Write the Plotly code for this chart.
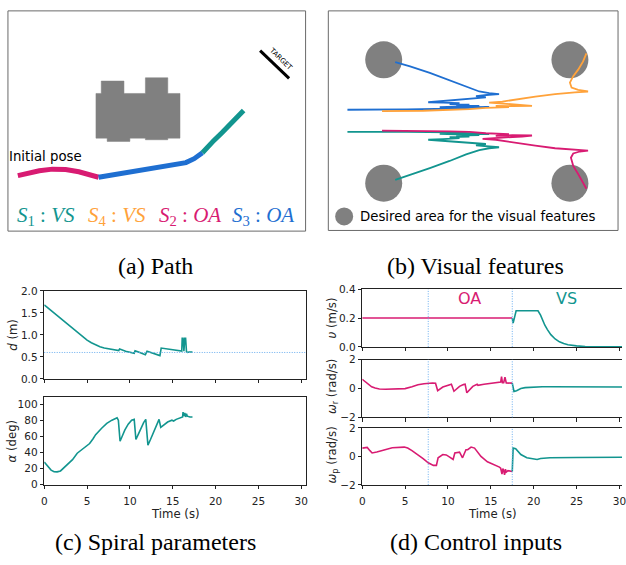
import plotly.graph_objects as go

TEAL = "#12958f"
MAGENTA = "#d81b72"
BLUE = "#1f6fd1"
ORANGE = "#ffa23a"
GRAY = "#808080"
VLINE = "#6aaef0"

# ---------------- (c) spiral parameters ----------------
d_time = [0, 0.5, 1, 1.5, 2, 2.5, 3, 3.5, 4, 4.5, 5, 5.5, 6, 6.5, 7, 7.5, 8, 8.7, 8.8, 9.5,
          10.5, 10.6, 11.0, 11.8, 12.0, 12.9, 13.5, 13.65, 14.5, 15.5, 16.05, 16.1, 16.2,
          16.3, 16.4, 16.5, 16.6, 16.7, 16.9, 17.3]
d_vals = [1.68, 1.60, 1.52, 1.44, 1.36, 1.27, 1.19, 1.11, 1.03, 0.95, 0.88, 0.82, 0.77, 0.73,
          0.70, 0.68, 0.665, 0.645, 0.68, 0.63, 0.58, 0.64, 0.61, 0.55, 0.63, 0.56, 0.53, 0.70,
          0.68, 0.65, 0.63, 0.92, 0.92, 0.63, 0.92, 0.92, 0.62, 0.60, 0.61, 0.61]
d_ref = 0.6

alpha_time = [0, 0.4, 0.8, 1.15, 1.5, 1.9, 2.3, 2.8, 3.3, 3.85, 4.3, 4.8, 5.3, 5.7, 6.0, 6.7,
              7.3, 7.9, 8.3, 8.5, 8.65, 8.85, 9.1, 9.4, 9.8, 10.2, 10.5, 10.7, 11.0, 11.35,
              11.6, 11.85, 12.1, 12.4, 12.7, 13.0, 13.4, 13.6, 14.0, 14.4, 14.9, 15.1, 15.4,
              15.8, 16.15, 16.2, 16.3, 16.4, 16.5, 16.6, 16.7, 17.0, 17.3]
alpha_vals = [28, 23, 18, 16, 15.8, 17, 21, 26, 31, 39, 43, 47, 51, 57, 62, 70, 76, 80, 82,
              83, 80, 54, 60, 67.6, 75, 80, 81, 56, 63, 71.7, 77, 81, 49, 56, 64, 72, 81, 71,
              74, 77.7, 80, 79, 81, 83, 84, 90, 85, 89, 84, 88, 85, 84, 84]

# ---------------- (d) control inputs ----------------
switch_times = [7.7, 17.5]
v_oa_time = [0, 17.5]
v_oa_vals = [0.2, 0.2]
v_vs_time = [17.5, 17.6, 17.95, 20.5, 20.8, 21.0, 21.3, 21.6, 22.0, 22.5, 23.0, 23.5, 24.0,
             25.0, 26.0, 28.0, 30.3]
v_vs_vals = [0.2, 0.165, 0.25, 0.25, 0.22, 0.19, 0.15, 0.12, 0.085, 0.055, 0.035, 0.023,
             0.015, 0.007, 0.003, 0.001, 0.0]

wr_oa_time = [0, 0.4, 0.77, 1.1, 1.5, 2.0, 2.7, 3.5, 4.3, 5.0, 5.8, 6.5, 7.2, 7.7, 8.2, 8.55,
              8.8, 9.4, 10.0, 10.4, 10.7, 11.35, 11.8, 12.0, 12.2, 12.9, 13.4, 13.5, 14.2,
              15.0, 15.7, 16.15, 16.25, 16.35, 16.5, 16.65, 16.8, 17.0, 17.3, 17.5]
wr_oa_vals = [0.64, 0.45, 0.26, 0.12, 0.03, -0.03, -0.05, -0.04, -0.02, -0.01, 0.12, 0.26,
              0.33, 0.37, 0.38, 0.37, -0.15, 0.1, 0.22, 0.3, -0.19, 0.15, 0.27, 0.3, -0.3,
              0.15, 0.3, 0.22, 0.3, 0.37, 0.4, 0.44, 0.82, 0.40, 0.40, 0.78, 0.38, 0.38, 0.37,
              0.37]
wr_vs_time = [17.5, 17.7, 18.0, 18.5, 19.0, 20.0, 21.0, 22.0, 25.0, 30.3]
wr_vs_vals = [0.37, -0.2, -0.15, 0.0, 0.06, 0.1, 0.12, 0.12, 0.1, 0.1]

wp_oa_time = [0, 0.58, 0.9, 1.15, 1.7, 2.7, 3.5, 4.9, 5.3, 5.8, 6.5, 7.1, 7.7, 8.3, 8.65,
              8.85, 9.4, 9.8, 10.2, 10.6, 10.8, 11.35, 11.7, 12.1, 12.3, 12.7, 13.1, 13.85,
              14.6, 15.4, 16.0, 16.15, 16.3, 16.4, 16.5, 16.6, 16.7, 16.8, 17.0, 17.5]
wp_oa_vals = [0.58, 0.63, 0.4, 0.24, 0.31, 0.47, 0.6, 0.65, 0.58, 0.4, 0.13, -0.15, -0.45,
              -0.63, -0.63, -0.1, 0.13, 0.1, -0.05, -0.22, 0.24, 0.29, -0.1, 0.47, 0.47, 0.65,
              0.58, 0.0, -0.38, -0.56, -0.75, -0.83, -1.25, -0.85, -1.0, -1.3, -0.9, -1.1,
              -1.0, -1.06]
wp_vs_time = [17.5, 17.6, 17.9, 18.2, 18.5, 19.2, 19.8, 20.4, 20.8, 21.9, 25.0, 30.3]
wp_vs_vals = [-1.06, 0.58, 0.54, 0.35, 0.13, -0.1, -0.18, -0.22, -0.15, -0.1, -0.08, -0.06]

time_ticks = [0, 5, 10, 15, 20, 25, 30]

# ---------------- (a) path (panel image units) ----------------
path_s2_x = [45, 75, 110, 150, 190, 230, 265, 290]
path_s2_y = [520, 513, 505, 500, 501, 508, 518, 525]
path_s3_x = [290, 330, 370, 400, 440, 480, 520, 555, 580, 605]
path_s3_y = [525, 518, 511, 505, 498, 492, 487, 480, 468, 450]
path_s1_x = [605, 620, 640, 665, 690, 710, 730]
path_s1_y = [450, 432, 412, 388, 362, 340, 320]
obstacle_x = [282, 298, 298, 367, 367, 432, 432, 500, 500, 537, 537, 500, 500, 432, 432,
              385, 385, 316, 316, 282, 282]
obstacle_y = [268, 268, 230, 230, 268, 268, 220, 220, 268, 268, 405, 405, 410, 410, 405,
              405, 415, 415, 405, 405, 268]
target_x = [780, 868]
target_y = [137, 222]
segment_labels = ["<i>S</i><sub>1</sub> : <i>VS</i>", "<i>S</i><sub>4</sub> : <i>VS</i>",
                  "<i>S</i><sub>2</sub> : <i>OA</i>", "<i>S</i><sub>3</sub> : <i>OA</i>"]
segment_label_x = [131, 345, 566, 789]
segment_colors = [TEAL, ORANGE, MAGENTA, BLUE]

# ---------------- (b) visual features (panel image units) ----------------
feat_area_x = [180, 745, 180, 745]
feat_area_y = [165, 165, 543, 543]
feat_blue_x = [215, 260, 320, 380, 430, 470, 500, 530, 500, 460, 490, 430, 400, 360, 315,
               360, 410, 380, 440, 400, 470, 350, 420, 500, 440, 380, 250, 70]
feat_blue_y = [172, 185, 205, 228, 248, 262, 267, 270, 272, 276, 280, 285, 288, 292, 295,
               296, 298, 301, 302, 305, 306, 310, 311, 309, 313, 315, 317, 318]
feat_orange_x = [795, 785, 770, 755, 745, 750, 770, 800, 760, 700, 640, 580, 540, 500, 545,
                 600, 630, 570, 520, 560, 490, 440, 380, 300, 175]
feat_orange_y = [145, 170, 195, 215, 235, 250, 257, 262, 265, 270, 278, 288, 293, 296, 299,
                 302, 306, 307, 306, 310, 312, 316, 319, 321, 322]
feat_teal_x = [215, 260, 320, 380, 430, 470, 500, 530, 500, 460, 490, 430, 400, 360, 315,
               360, 410, 380, 440, 400, 470, 350, 420, 500, 440, 380, 250, 70]
feat_teal_y = [533, 518, 497, 475, 455, 442, 436, 433, 430, 427, 423, 418, 415, 412, 410,
               408, 405, 402, 400, 397, 396, 392, 391, 393, 389, 387, 386, 386]
feat_mag_x = [795, 785, 770, 755, 748, 755, 775, 800, 760, 700, 640, 580, 520, 480, 540,
              600, 630, 570, 520, 560, 490, 440, 380, 300, 175]
feat_mag_y = [560, 540, 515, 490, 465, 452, 446, 443, 440, 436, 428, 418, 410, 407, 404,
              400, 397, 396, 398, 393, 390, 386, 384, 383, 382]

W, H = 626, 565
fig = go.Figure()


def line(x, y, color, xa, ya, width=1.6):
    fig.add_trace(go.Scatter(x=x, y=y, mode="lines", line=dict(color=color, width=width),
                             xaxis=xa, yaxis=ya, hoverinfo="skip"))


# (c)
line(d_time, d_vals, TEAL, "x", "y")
line(alpha_time, alpha_vals, TEAL, "x2", "y2")
# (d)
line(v_oa_time, v_oa_vals, MAGENTA, "x3", "y3")
line(v_vs_time, v_vs_vals, TEAL, "x3", "y3")
line(wr_oa_time, wr_oa_vals, MAGENTA, "x4", "y4")
line(wr_vs_time, wr_vs_vals, TEAL, "x4", "y4")
line(wp_oa_time, wp_oa_vals, MAGENTA, "x5", "y5")
line(wp_vs_time, wp_vs_vals, TEAL, "x5", "y5")

# (a)
fig.add_trace(go.Scatter(x=obstacle_x, y=obstacle_y, mode="lines", fill="toself",
                         fillcolor=GRAY, line=dict(color=GRAY, width=0.5),
                         xaxis="x6", yaxis="y6", hoverinfo="skip"))
line(path_s2_x, path_s2_y, MAGENTA, "x6", "y6", 5)
line(path_s3_x, path_s3_y, BLUE, "x6", "y6", 5)
line(path_s1_x, path_s1_y, TEAL, "x6", "y6", 5)
line(target_x, target_y, "black", "x6", "y6", 3)

# (b)
fig.add_trace(go.Scatter(x=feat_area_x, y=feat_area_y, mode="markers",
                         marker=dict(size=37, color=GRAY), xaxis="x7", yaxis="y7",
                         hoverinfo="skip"))
fig.add_trace(go.Scatter(x=[60], y=[645], mode="markers",
                         marker=dict(size=18, color=GRAY), xaxis="x7", yaxis="y7",
                         hoverinfo="skip"))
line(feat_blue_x, feat_blue_y, BLUE, "x7", "y7", 1.8)
line(feat_orange_x, feat_orange_y, ORANGE, "x7", "y7", 1.8)
line(feat_teal_x, feat_teal_y, TEAL, "x7", "y7", 1.8)
line(feat_mag_x, feat_mag_y, MAGENTA, "x7", "y7", 1.8)

tickfont = dict(family="DejaVu Sans", size=10.5, color="#222")
base = dict(showline=True, linecolor="#222", linewidth=1, ticks="outside",
            ticklen=3.5, tickwidth=1, tickcolor="#222", showgrid=False, zeroline=False,
            tickfont=tickfont, fixedrange=True)
common = dict(mirror=True, **base)
open_right = dict(mirror=False, **base)


def py(px):
    return 1 - px / H


def pxx(px):
    return px / W


cx = [pxx(41.7), pxx(306)]
dx = [pxx(363.3), 1.0]

layout = dict(
    width=W, height=H, margin=dict(l=0, r=0, t=0, b=0), showlegend=False,
    paper_bgcolor="white", plot_bgcolor="rgba(0,0,0,0)",
    xaxis=dict(domain=cx, range=[0, 30.5], tickvals=time_ticks, showticklabels=False, anchor="y", **common),
    yaxis=dict(domain=[py(381), py(291)], range=[0, 2], tickvals=[0, 0.5, 1, 1.5, 2],
               tickformat=".1f", anchor="x", **common),
    xaxis2=dict(domain=cx, range=[0, 30.5], tickvals=time_ticks, anchor="y2",
                ticklabelstandoff=3, **common),
    yaxis2=dict(domain=[py(489), py(399.3)], range=[0, 109], tickvals=[0, 20, 40, 60, 80, 100],
                anchor="x2", **common),
    xaxis3=dict(domain=dx, range=[0, 30.3], tickvals=time_ticks, showticklabels=False, anchor="y3", **common),
    yaxis3=dict(domain=[py(348.3), py(289.3)], range=[0, 0.4], tickvals=[0, 0.2, 0.4],
                tickformat=".1f", anchor="x3", **open_right),
    xaxis4=dict(domain=dx, range=[0, 30.3], tickvals=time_ticks, showticklabels=False, anchor="y4", **common),
    yaxis4=dict(domain=[py(420.3), py(361.3)], range=[-2, 2], tickvals=[-2, 0, 2], anchor="x4", **open_right),
    xaxis5=dict(domain=dx, range=[0, 30.3], tickvals=time_ticks, anchor="y5",
                ticklabelstandoff=3, ticklabeloverflow="allow", **common),
    yaxis5=dict(domain=[py(489.3), py(431)], range=[-2, 2], tickvals=[-2, 0, 2], anchor="x5", **open_right),
    xaxis6=dict(domain=[0, pxx(320)], range=[0, 960], visible=False, anchor="y6", fixedrange=True),
    yaxis6=dict(domain=[py(235), 1], range=[705, 0], visible=False, anchor="x6", fixedrange=True),
    xaxis7=dict(domain=[pxx(325), pxx(625)], range=[0, 900], visible=False, anchor="y7", fixedrange=True),
    yaxis7=dict(domain=[py(235), 1], range=[705, 0], visible=False, anchor="x7", fixedrange=True),
)
fig.update_layout(**layout)

shapes = [
    dict(type="rect", xref="x6", yref="y6", x0=15, y0=15, x1=918, y1=690,
         line=dict(color="#6a6a6a", width=1)),
    dict(type="rect", xref="x7", yref="y7", x0=12, y0=15, x1=891, y1=688,
         line=dict(color="#6a6a6a", width=1)),
    dict(type="line", xref="x domain", yref="y", x0=0, x1=1, y0=d_ref, y1=d_ref,
         line=dict(color=VLINE, width=1, dash="1px,1.5px")),
]
for ya in ["y3", "y4", "y5"]:
    for t in switch_times:
        shapes.append(dict(type="line", xref="x" + ya[1:], yref=ya + " domain", x0=t, x1=t,
                           y0=0, y1=1, line=dict(color=VLINE, width=1, dash="1px,1.5px")))
fig.update_layout(shapes=shapes)

ann = []
sans = "DejaVu Sans"
serif = "Liberation Serif"
# (a) texts
ann.append(dict(x=12, y=461, xref="x6", yref="y6", text="Initial pose", showarrow=False,
                xanchor="left", yanchor="middle", font=dict(family=sans, size=13.3, color="black")))
ann.append(dict(x=842, y=163, xref="x6", yref="y6", text="TARGET", showarrow=False,
                textangle=44, font=dict(family=sans, size=7, color="black")))
for lab, lx, col in zip(segment_labels, segment_label_x, segment_colors):
    ann.append(dict(x=lx, y=645, xref="x6", yref="y6", text=lab, showarrow=False,
                    xanchor="center", yanchor="middle", font=dict(family=serif, size=21, color=col)))
# (b) legend text
ann.append(dict(x=102, y=645, xref="x7", yref="y7", text="Desired area for the visual features",
                showarrow=False, xanchor="left", yanchor="middle",
                font=dict(family=sans, size=13.3, color="black")))
# (d) mode labels
ann.append(dict(x=12.5, y=0.334, xref="x3", yref="y3", text="OA", showarrow=False,
                font=dict(family=sans, size=16, color=MAGENTA)))
ann.append(dict(x=23.8, y=0.334, xref="x3", yref="y3", text="VS", showarrow=False,
                font=dict(family=sans, size=16, color=TEAL)))
# axis labels
lab_font = dict(family=sans, size=11.7, color="#222")
ylabels = [("<i>d</i> (m)", 10, 336), ("<i>α</i> (deg)", 9, 444),
           ("<i>υ</i> (m/s)", 333, 319), ("<i>ω</i><sub>r</sub> (rad/s)", 333, 389),
           ("<i>ω</i><sub>p</sub> (rad/s)", 333, 459)]
for txt, x, y in ylabels:
    ann.append(dict(x=pxx(x), y=py(y), xref="paper", yref="paper", text=txt, showarrow=False,
                    textangle=-90, xanchor="center", yanchor="middle", font=lab_font))
for x in [174.5, 495]:
    ann.append(dict(x=pxx(x), y=py(519), xref="paper", yref="paper", text="Time (s)",
                    showarrow=False, xanchor="center", yanchor="middle", font=lab_font))
# captions
cap_font = dict(family=serif, size=24, color="black")
captions = [("(a) Path", 154, 266), ("(b) Visual features", 478, 266),
            ("(c) Spiral parameters", 154, 548), ("(d) Control inputs", 478, 548)]
for txt, x, y in captions:
    ann.append(dict(x=pxx(x), y=py(y), xref="paper", yref="paper", text=txt, showarrow=False,
                    xanchor="center", yanchor="middle", font=cap_font))
fig.update_layout(annotations=ann)

fig.write_html("out.html", config={"displayModeBar": False},
               post_script="document.body.style.margin='0px';document.body.style.overflow='hidden';")
